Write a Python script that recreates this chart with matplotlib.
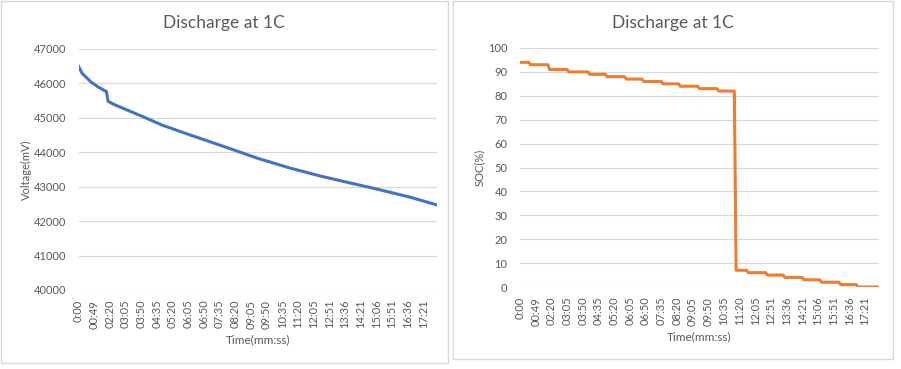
import matplotlib
matplotlib.use("Agg")
import matplotlib.pyplot as plt
from matplotlib.patches import Rectangle
import numpy as np

plt.rcParams['font.family'] = ['Lato', 'DejaVu Sans']

# ---------------- data ----------------
n_samples = 207  # number of category samples on the x axis
tick_idx = list(range(0, 199, 9))
tick_labels = ["0:00", "00:49", "02:20", "03:05", "03:50", "04:35", "05:20", "06:05",
               "06:50", "07:35", "08:20", "09:05", "09:50", "10:35", "11:20", "12:05",
               "12:51", "13:36", "14:21", "15:06", "15:51", "16:36", "17:21"]

# voltage read at sample indices
volt_idx = [0, 2, 4, 7, 11, 15, 16, 17, 21, 37, 48, 62, 84, 103, 122, 139, 153, 172, 191, 206]
volt_mv = [46500, 46300, 46200, 46050, 45905, 45790, 45770, 45480, 45375, 45035, 44790,
           44540, 44160, 43825, 43535, 43310, 43145, 42925, 42690, 42470]

# SOC levels and the sample index where each level starts
soc_levels = [94, 93, 91, 90, 89, 88, 87, 86, 85, 84, 83, 82, 7, 6, 5, 4, 3, 2, 1, 0]
soc_starts = [0, 6, 17, 28, 40, 50, 61, 71, 82, 92, 103, 114, 124, 131, 142, 152, 163, 173, 184, 194]

# ---------------- figure ----------------
W, H = 901, 369
fig = plt.figure(figsize=(W / 100, H / 100), dpi=100)
fig.patch.set_facecolor('white')

def px_rect(x0, y0, x1, y1):
    return [x0 / W, 1 - y1 / H, (x1 - x0) / W, (y1 - y0) / H]

# chart borders
for (x0, y0, x1, y1) in [(0.5, 0.5, 448, 363), (453, 0.5, 893, 359)]:
    fig.add_artist(Rectangle((x0 / W, 1 - y1 / H), (x1 - x0) / W, (y1 - y0) / H,
                             transform=fig.transFigure, fill=False,
                             edgecolor='#d9d9d9', linewidth=1.0))

txt = '#595959'

def style(ax, ylim, yticks):
    ax.set_xlim(0, n_samples - 1)
    ax.set_ylim(*ylim)
    ax.set_yticks(yticks)
    ax.set_xticks(tick_idx)
    ax.set_xticklabels(tick_labels, rotation=90, va='top', ha='center')
    for s in ax.spines.values():
        s.set_visible(False)
    ax.grid(axis='y', color='#d9d9d9', linewidth=0.9)
    ax.set_axisbelow(True)
    ax.tick_params(axis='both', length=0, colors=txt, labelsize=8)
    ax.tick_params(axis='x', pad=7)
    ax.tick_params(axis='y', pad=9)

# left chart
ax1 = fig.add_axes(px_rect(78.5, 49, 437, 290))
style(ax1, (40000, 47000), list(range(40000, 47001, 1000)))
ax1.plot(volt_idx, volt_mv, color='#4472C4', linewidth=2.2, solid_joinstyle='round')
ax1.set_ylabel('Voltage(mV)', color=txt, fontsize=8, labelpad=1)
ax1.set_xlabel('Time(mm:ss)', color=txt, fontsize=8.5, labelpad=4)

# right chart
ax2 = fig.add_axes(px_rect(520, 48, 879, 287))
style(ax2, (0, 100), list(range(0, 101, 10)))
xs, ys = [], []
for i, lvl in enumerate(soc_levels):
    end = soc_starts[i + 1] - 1 if i + 1 < len(soc_starts) else n_samples - 1
    xs += [soc_starts[i], end]
    ys += [lvl, lvl]
ax2.plot(xs, ys, color='#ED7D31', linewidth=2.2, solid_joinstyle='round')
ax2.set_ylabel('SOC(%)', color=txt, fontsize=8, labelpad=2)
ax2.set_xlabel('Time(mm:ss)', color=txt, fontsize=8.5, labelpad=4)

fig.text(224 / W, 1 - 23 / H, 'Discharge at 1C', ha='center', va='center',
         fontsize=12.5, color=txt)
fig.text(673 / W, 1 - 23 / H, 'Discharge at 1C', ha='center', va='center',
         fontsize=12.5, color=txt)

fig.savefig('out.png', dpi=100)
